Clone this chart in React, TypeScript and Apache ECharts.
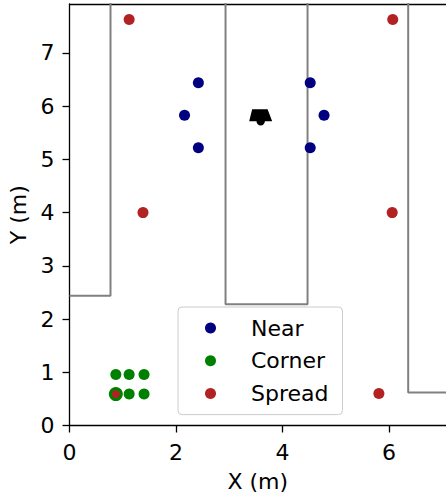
import React, { useEffect, useRef } from "react";
import * as echarts from "echarts";

// ---- data ----
const xTicks = [0, 2, 4, 6];
const yTicks = [0, 1, 2, 3, 4, 5, 6, 7];
const xRange = [0, 7.07];
const yRange = [0, 7.92];

const nearPoints = [
  [2.42, 6.44],
  [2.16, 5.83],
  [2.42, 5.22],
  [4.52, 6.44],
  [4.78, 5.83],
  [4.52, 5.22],
];
const cornerPoints = [
  [0.87, 0.96],
  [1.12, 0.96],
  [1.4, 0.96],
  [0.87, 0.59],
  [1.12, 0.59],
  [1.4, 0.59],
];
const spreadPoints = [
  [1.12, 7.63],
  [6.07, 7.63],
  [1.38, 4.0],
  [6.06, 4.0],
  [5.81, 0.6],
  [0.87, 0.59],
];
const speakerPoint = [[3.59, 5.79]];

const leftWall = [
  [0, 2.44],
  [0.77, 2.44],
  [0.77, 8.5],
];
const middleWall = [
  [2.93, 8.5],
  [2.93, 2.28],
  [4.47, 2.28],
  [4.47, 8.5],
];
const rightWall = [
  [6.36, 8.5],
  [6.36, 0.62],
  [7.6, 0.62],
];

const seriesNames = ["Near", "Corner", "Spread"];

const FONT = "DejaVu Sans";
const SPEAKER_PATH =
  "path://M3,0 L18.4,0 L23,12 L15.7,12 A4.2,4.2 0 0 1 7.3,12 L0,12 Z";

export default function App() {
  const ref = useRef<HTMLDivElement>(null);
  useEffect(() => {
    if (!ref.current) return;
    const chart = echarts.init(ref.current, undefined, { renderer: "svg" });
    const wallSeries = [leftWall, middleWall, rightWall].map((w) => ({
      type: "line",
      data: w,
      symbol: "none",
      silent: true,
      clip: true,
      lineStyle: { color: "#808080", width: 2 },
      z: 1,
    }));
    chart.setOption({
      animation: false,
      grid: {
        left: 69.5,
        top: 4,
        right: 0,
        bottom: 69.5,
        containLabel: false,
        outerBoundsMode: "none",
      },
      xAxis: [
        {
          type: "value",
          min: xRange[0],
          max: xRange[1],
          interval: 2,
          splitLine: { show: false },
          axisLine: { onZero: false, lineStyle: { color: "#000", width: 1.3 } },
          axisTick: { customValues: xTicks, length: 7, lineStyle: { color: "#000", width: 1.3 } },
          axisLabel: {
            customValues: xTicks,
            fontSize: 22,
            fontFamily: FONT,
            color: "#000",
            margin: 16,
          },
          name: "X (m)",
          nameLocation: "middle",
          nameGap: 45,
          nameTextStyle: { fontSize: 22, fontFamily: FONT, color: "#000" },
        },
        {
          type: "value",
          position: "top",
          min: xRange[0],
          max: xRange[1],
          splitLine: { show: false },
          axisLine: { onZero: false, lineStyle: { color: "#000", width: 1.3 } },
          axisTick: { show: false },
          axisLabel: { show: false },
        },
      ],
      yAxis: {
        type: "value",
        min: yRange[0],
        max: yRange[1],
        interval: 1,
        splitLine: { show: false },
        axisLine: { show: true, onZero: false, lineStyle: { color: "#000", width: 1.3 } },
        axisTick: { show: true, customValues: yTicks, length: 7, lineStyle: { color: "#000", width: 1.3 } },
        axisLabel: {
          customValues: yTicks,
          fontSize: 22,
          fontFamily: FONT,
          color: "#000",
          margin: 15,
        },
        name: "Y (m)",
        nameLocation: "middle",
        nameGap: 40,
        nameTextStyle: { fontSize: 22, fontFamily: FONT, color: "#000" },
      },
      legend: {
        data: seriesNames.map((n) => ({ name: n, icon: "circle" })),
        orient: "vertical",
        left: 178,
        top: 307,
        itemWidth: 11,
        itemHeight: 11,
        itemGap: 10.8,
        padding: [10, 14, 10, 27],
        borderColor: "#cccccc",
        borderWidth: 1,
        borderRadius: 4,
        backgroundColor: "rgba(255,255,255,0.8)",
        textStyle: {
          fontSize: 22,
          fontFamily: FONT,
          color: "#000",
          lineHeight: 22,
          padding: [0, 0, 0, 30],
        },
      },
      series: [
        ...wallSeries,
        {
          type: "scatter",
          data: speakerPoint,
          symbol: SPEAKER_PATH,
          symbolSize: [23, 16.2],
          itemStyle: { color: "#000", opacity: 1 },
          z: 3,
        },
        {
          name: seriesNames[0],
          type: "scatter",
          data: nearPoints,
          symbolSize: 11,
          itemStyle: { color: "#000080", opacity: 1 },
          z: 4,
        },
        {
          name: seriesNames[1],
          type: "scatter",
          data: cornerPoints,
          symbolSize: (_v: any, p: any) => (p.dataIndex === 3 ? 14 : 11),
          itemStyle: { color: "#008000", opacity: 1 },
          z: 5,
        },
        {
          name: seriesNames[2],
          type: "scatter",
          data: spreadPoints,
          symbolSize: (_v: any, p: any) => (p.dataIndex === 5 ? 8 : 11),
          itemStyle: { color: "#b22222", opacity: 1 },
          z: 6,
        },
      ],
    });
    return () => chart.dispose();
  }, []);
  return (
    <div
      ref={ref}
      style={{ position: "fixed", left: 0, top: 0, width: 446, height: 495, background: "#fff" }}
    />
  );
}
